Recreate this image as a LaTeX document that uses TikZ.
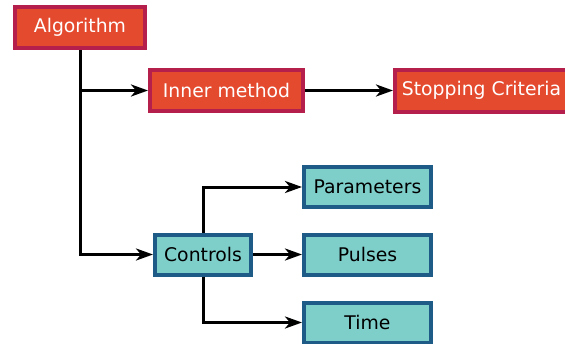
\documentclass[tikz,border=0pt]{standalone}
\usepackage{fontspec}
\setmainfont{DejaVu Sans}
\usetikzlibrary{arrows.meta}
\definecolor{redfill}{HTML}{E44A2E}
\definecolor{redline}{HTML}{B51F4B}
\definecolor{tealfill}{HTML}{7ECFCA}
\definecolor{tealline}{HTML}{1E5B86}
\tikzset{
  redbox/.style={draw=redline, fill=redfill, line width=4pt, text=white,
    inner sep=0pt, minimum height=41pt, font=\fontsize{18.8}{22}\selectfont},
  tealbox/.style={draw=tealline, fill=tealfill, line width=4pt, text=black,
    inner sep=0pt, minimum height=40pt, font=\fontsize{18.8}{22}\selectfont},
  arr/.style={line width=3pt, -{Stealth[length=17pt,width=12pt,inset=5pt]}}
}
\begin{document}
\begin{tikzpicture}[x=1pt,y=-1pt]
\useasboundingbox (0,0) rectangle (565,343);
\node[redbox, minimum width=130pt] (alg) at (80,27.5) {Algorithm};
\node[redbox, minimum width=153pt] (inner) at (226.5,90.5) {Inner method};
\node[redbox, minimum width=173pt, minimum height=42pt] (stop) at (481.5,90.5) {Stopping Criteria};
\node[tealbox, minimum width=96pt] (ctrl) at (203,254.5) {Controls};
\node[tealbox, minimum width=127pt] (param) at (367.5,187) {Parameters};
\node[tealbox, minimum width=127pt] (puls) at (367.5,254.5) {Pulses};
\node[tealbox, minimum width=127pt] (time) at (367.5,322.5) {Time};
\draw[arr] (alg.south) |- (ctrl.west);
\draw[arr] (alg.south) |- (inner.west);
\draw[arr] (inner.east) -- (stop.west);
\draw[arr] (ctrl.north) |- (param.west);
\draw[arr] (ctrl.east) -- (puls.west);
\draw[arr] (ctrl.south) |- (time.west);
\end{tikzpicture}
\end{document}
